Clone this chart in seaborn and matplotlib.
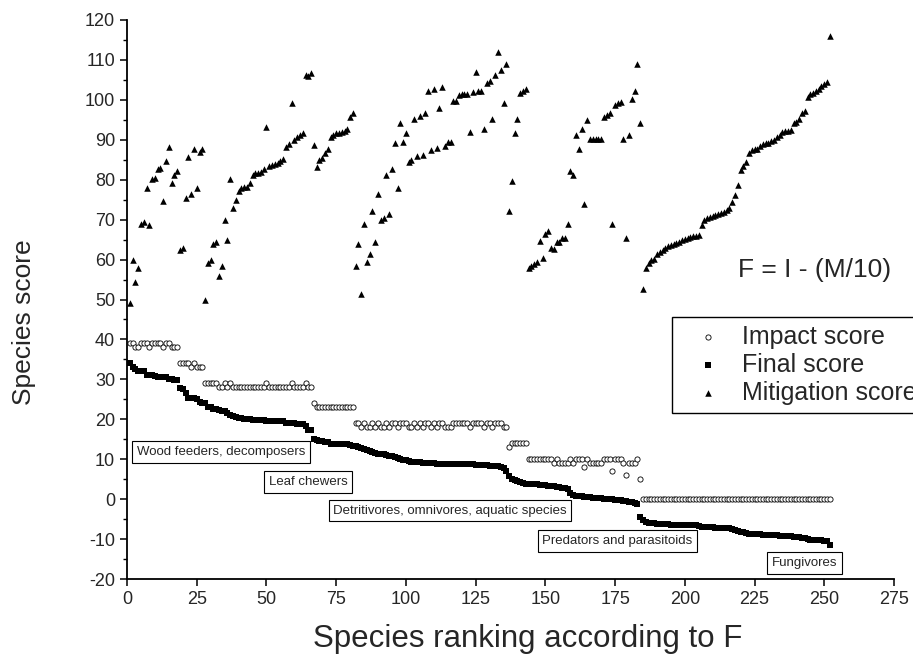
import numpy as np
import pandas as pd
import seaborn as sb
from matplotlib import pyplot as plt
from matplotlib.ticker import MultipleLocator

# species ranks (sorted by final score F)
rank = list(range(1, 253))

# impact score I
impact = ([39, 39, 38, 38, 39, 39, 39, 38, 39, 39, 39, 39, 38, 39, 39, 38, 38, 38]
          + [34, 34, 34, 34, 33, 34, 33, 33, 33]
          + [29, 29, 29, 29, 29, 28, 28, 29, 28, 29] + [28] * 12 + [29] + [28] * 8 + [29] + [28] * 4 + [29, 28, 28]
          + [24] + [23] * 14
          + [19, 19, 18, 19, 18, 18, 19, 18, 19, 18, 18, 19, 18, 19, 19, 18, 19, 19, 19, 18,
             18, 19, 18, 19, 18, 19, 19, 18, 19, 18, 19, 19, 18, 18, 18, 19, 19, 19, 19, 19,
             19, 18, 19, 19, 19, 19, 18, 19, 19, 18, 19, 19, 19, 18, 18]
          + [13, 14, 14, 14, 14, 14, 14]
          + [10, 10, 10, 10, 10, 10, 10, 10, 10, 9, 10, 9, 9, 9, 9, 10, 9, 10, 10, 10,
             8, 10, 9, 9, 9, 9, 9, 10, 10, 10, 7, 10, 10, 10, 9, 6, 9, 9, 9, 10, 5]
          + [0] * 68)

# final score F
final = [34.1, 33.0, 32.6, 32.2, 32.1, 32.0, 31.2, 31.1, 31.0, 30.9, 30.7, 30.7, 30.5, 30.5, 30.2,
         30.1, 29.9, 29.8, 27.8, 27.7, 26.5, 25.4, 25.35, 25.25, 25.2, 24.3, 24.2,
         24.0, 23.1, 23.0, 22.6, 22.55, 22.4, 22.15, 22.0, 21.5, 21.0, 20.7, 20.5, 20.3, 20.2,
         20.18, 20.15, 20.07, 19.9, 19.85, 19.82, 19.8, 19.72, 19.68, 19.66, 19.63, 19.6, 19.58,
         19.53, 19.47, 19.18, 19.11, 19.07, 19.01, 18.93, 18.89, 18.83, 18.38, 17.41, 17.33,
         15.13, 14.69, 14.5, 14.45, 14.34, 14.22, 13.93, 13.87, 13.84, 13.82, 13.81, 13.79, 13.73,
         13.44, 13.33,
         13.2, 13.0, 12.8, 12.5, 12.2, 12.0, 11.8, 11.6, 11.4, 11.3, 11.2, 11.0, 10.9, 10.7, 10.5,
         10.3, 10.1, 9.9, 9.7, 9.5, 9.35, 9.3, 9.25, 9.2, 9.15, 9.1, 9.05, 9.0, 8.95, 8.9,
         8.9, 8.85, 8.85, 8.8, 8.8, 8.8, 8.8, 8.8, 8.75, 8.75, 8.7, 8.7, 8.7, 8.65, 8.6,
         8.55, 8.5, 8.45, 8.4, 8.3, 8.25, 8.2, 8.1, 7.9, 7.1,
         5.8, 5.0, 4.8, 4.5, 4.2, 4.0, 3.9,
         3.85, 3.8, 3.75, 3.7, 3.65, 3.6, 3.5, 3.4, 3.3, 3.2, 3.1, 3.0, 2.9, 2.8, 2.5,
         1.6, 1.1, 0.9, 0.8, 0.7, 0.6, 0.5, 0.45, 0.4, 0.35, 0.3, 0.2, 0.15, 0.1, 0.05,
         0.0, -0.1, -0.2, -0.3, -0.4, -0.5, -0.6, -0.7, -0.9, -1.2, -4.4,
         -5.27, -5.78, -5.92, -5.99, -6.02, -6.14, -6.19, -6.24, -6.28, -6.33,
         -6.37, -6.39, -6.41, -6.44, -6.48, -6.51, -6.53, -6.56, -6.58, -6.59,
         -6.61, -6.86, -6.99, -7.03, -7.06, -7.09, -7.11, -7.14, -7.17, -7.2,
         -7.23, -7.28, -7.45, -7.61, -7.86, -8.24, -8.34, -8.45, -8.66, -8.74,
         -8.76, -8.78, -8.84, -8.89, -8.91, -8.93, -8.96, -8.99, -9.06, -9.13,
         -9.19, -9.21, -9.23, -9.25, -9.41, -9.45, -9.52, -9.67, -9.73, -10.08,
         -10.14, -10.18, -10.23, -10.28, -10.34, -10.4, -10.45, -11.6]

# mitigation score M
mitigation = [49.2, 59.9, 54.5, 57.8, 69.0, 69.3, 77.8, 68.6, 80.3, 80.4, 82.8, 83.0, 74.6, 84.6, 88.2,
              79.2, 81.1, 82.3, 62.4, 62.8, 75.4, 85.7, 76.5, 87.6, 78.0, 87.0, 87.8,
              49.8, 59.2, 60.0, 63.8, 64.5, 56.0, 58.4, 69.9, 64.9, 80.2, 73.0, 74.9, 77.1, 77.8,
              78.2, 78.3, 79.3, 81.1, 81.6, 81.8, 82.0, 82.8, 93.2, 83.4, 83.7, 83.9, 84.2,
              84.7, 85.3, 88.2, 88.9, 99.3, 89.9, 90.7, 91.1, 91.7, 106.2, 105.9, 106.7,
              88.7, 83.1, 85.0, 85.5, 86.6, 87.8, 90.7, 91.3, 91.6, 91.8, 91.9, 92.1, 92.7,
              95.6, 96.7,
              58.4, 63.8, 51.3, 68.8, 59.3, 61.5, 72.1, 64.4, 76.3, 69.9, 70.5, 81.1, 71.5, 82.8, 89.1,
              78.0, 94.2, 89.5, 91.7, 84.5, 84.9, 95.2, 86.0, 96.0, 86.3, 96.7, 102.2, 87.4, 102.6, 88.0,
              98.0, 103.3, 88.4, 89.4, 89.4, 99.7, 99.7, 101.1, 101.4, 101.5, 101.5, 91.9, 102.0, 107.0, 102.2,
              102.3, 92.6, 104.3, 104.7, 95.1, 106.3, 112.0, 107.4, 99.2, 109.1,
              72.2, 79.6, 91.8, 95.2, 101.8, 102.3, 102.6,
              57.8, 58.4, 58.8, 59.3, 64.6, 60.4, 66.3, 67.2, 62.8, 62.7, 64.4, 64.4, 65.3, 65.4, 68.8,
              82.2, 81.3, 91.1, 87.7, 92.7, 73.9, 94.9, 90.2, 90.2, 90.2, 90.2, 90.2, 95.7, 96.2, 96.8,
              68.8, 98.6, 99.1, 99.5, 90.2, 65.3, 91.2, 100.3, 102.3, 109.1, 94.1,
              52.7, 57.8, 59.2, 59.9, 60.2, 61.4, 61.9, 62.4, 62.8, 63.3,
              63.7, 63.9, 64.1, 64.4, 64.8, 65.1, 65.3, 65.6, 65.8, 65.9,
              66.1, 68.6, 69.9, 70.3, 70.6, 70.9, 71.1, 71.4, 71.7, 72.0,
              72.3, 72.8, 74.5, 76.1, 78.6, 82.4, 83.4, 84.5, 86.6, 87.4,
              87.6, 87.8, 88.4, 88.9, 89.1, 89.3, 89.6, 89.9, 90.6, 91.3,
              91.9, 92.1, 92.3, 92.5, 94.1, 94.5, 95.2, 96.7, 97.3, 100.8,
              101.4, 101.8, 102.3, 102.8, 103.4, 104.0, 104.5, 116.0]

groups = ['Wood feeders, decomposers', 'Leaf chewers', 'Detritivores, omnivores, aquatic species',
          'Predators and parasitoids', 'Fungivores']
group_pos = [(33.6, 11.8), (64.9, 4.3), (115.8, -2.9), (175.8, -10.5), (242.9, -16.0)]

df = pd.DataFrame({'rank': rank, 'impact': impact, 'final': final, 'mitigation': mitigation})

sb.set_style('ticks')
plt.rcParams['font.family'] = ['Liberation Sans', 'DejaVu Sans']
plt.rcParams['axes.unicode_minus'] = False

# axes box in pixels: x 127..894, y 20..579
W = 767
fig = plt.figure(figsize=(9.13, 6.62), dpi=100)
ax = fig.add_axes([127 / 913, 1 - 579 / 662, W / 913, 559 / 662])

sb.scatterplot(data=df, x='rank', y='impact', marker='o', s=14, color='white', edgecolor='black',
               linewidth=0.6, label='Impact score', ax=ax)
sb.scatterplot(data=df, x='rank', y='final', marker='s', s=14, color='black', linewidth=0,
               label='Final score', ax=ax)
sb.scatterplot(data=df, x='rank', y='mitigation', marker='^', s=22, color='black', linewidth=0,
               label='Mitigation score', ax=ax)

ax.set_xlim(0, 275)
ax.set_ylim(-20, 120)
ax.set_xticks(range(0, 276, 25))
ax.set_yticks(range(-20, 121, 10))
ax.yaxis.set_minor_locator(MultipleLocator(5))
ax.tick_params(axis='both', which='major', labelsize=13, length=5, width=1.1, color='black')
ax.tick_params(axis='y', which='minor', length=3, width=1.0, color='black')
for sp in ['left', 'bottom']:
    ax.spines[sp].set_linewidth(1.3)
    ax.spines[sp].set_color('black')
sb.despine(ax=ax)

ax.set_xlabel('Species ranking according to F', fontsize=22.5)
ax.xaxis.set_label_coords((528 - 127) / W, -(624 - 579) / 559)
ax.set_ylabel('Species score', fontsize=19)
ax.yaxis.set_label_coords(-(127 - 36) / W, (579 - 322) / 559)

for name, (gx, gy) in zip(groups, group_pos):
    ax.text(gx, gy, name, ha='center', va='center', fontsize=9.5,
            bbox=dict(boxstyle='square,pad=0.35', fc='white', ec='black', lw=0.8))

ax.text(218.9, 57.3, 'F = I - (M/10)', ha='left', va='center', fontsize=19)

leg = ax.legend(loc='upper left', bbox_to_anchor=(672 / 913, 1 - 317 / 662), bbox_transform=fig.transFigure,
                fontsize=18, frameon=True, fancybox=False, edgecolor='black', framealpha=1,
                borderaxespad=0, borderpad=0.3, labelspacing=0.17, handlelength=2.3, handletextpad=0.2)
leg.get_frame().set_linewidth(1.0)

fig.savefig('out.png', dpi=100)
